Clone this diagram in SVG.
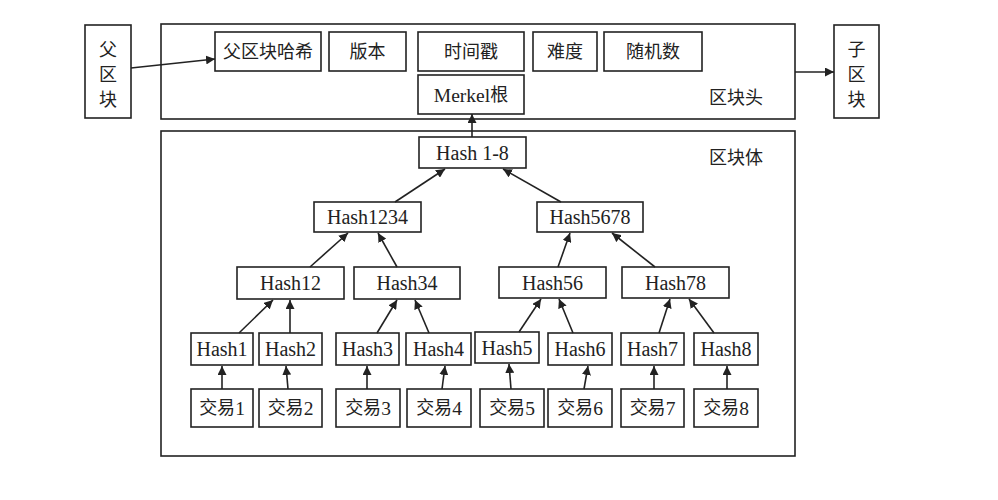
<svg xmlns="http://www.w3.org/2000/svg" width="998" height="500" viewBox="0 0 998 500">
<style>
.b{fill:#fff;stroke:#222;stroke-width:1.6}
.t{font-family:"Liberation Serif","Noto Sans CJK SC",serif;font-size:18px;fill:#222;text-anchor:middle;dominant-baseline:central}
.l{font-size:20px}
.c{stroke:#222;stroke-width:1.6;fill:none;marker-end:url(#ah)}
</style>
<defs>
<marker id="ah" viewBox="0 0 10 10" refX="10" refY="5" markerWidth="9" markerHeight="9" markerUnits="userSpaceOnUse" orient="auto">
<path d="M0,0 L10,5 L0,10 z" fill="#222"/>
</marker>
</defs>
<rect width="998" height="500" fill="#fff"/>
<g id="header"><rect class="b" x="161" y="24" width="634" height="95"/><text class="t" x="736" y="98">区块头</text></g>
<g id="body"><rect class="b" x="161" y="131" width="634" height="325"/><text class="t" x="736" y="158">区块体</text></g>
<g id="parent"><rect class="b" x="85" y="25" width="46" height="93"/><text class="t" x="108" y="50">父</text><text class="t" x="108" y="75">区</text><text class="t" x="108" y="100">块</text></g>
<g id="child"><rect class="b" x="834" y="25" width="45" height="93"/><text class="t" x="856.5" y="50">子</text><text class="t" x="856.5" y="75">区</text><text class="t" x="856.5" y="100">块</text></g>
<g id="prevhash"><rect class="b" x="215" y="32" width="106" height="39"/><text class="t" x="268" y="52">父区块哈希</text></g>
<g id="version"><rect class="b" x="329" y="32" width="77" height="39"/><text class="t" x="367.5" y="52">版本</text></g>
<g id="timestamp"><rect class="b" x="418" y="32" width="106" height="39"/><text class="t" x="471" y="52">时间戳</text></g>
<g id="difficulty"><rect class="b" x="533" y="32" width="64" height="39"/><text class="t" x="565" y="52">难度</text></g>
<g id="nonce"><rect class="b" x="604" y="32" width="98" height="39"/><text class="t" x="653" y="52">随机数</text></g>
<g id="merkle"><rect class="b" x="418" y="75" width="106" height="39"/><text class="t" x="471" y="95"><tspan style="font-size:19.5px">Merkel</tspan>根</text></g>
<g id="h18"><rect class="b" x="419" y="137" width="107" height="31"/><text class="t l" x="472.5" y="153">Hash 1-8</text></g>
<g id="h1234"><rect class="b" x="314" y="202" width="107" height="30"/><text class="t l" x="367.5" y="217">Hash1234</text></g>
<g id="h5678"><rect class="b" x="537" y="202" width="106" height="30"/><text class="t l" x="590" y="217">Hash5678</text></g>
<g id="h12"><rect class="b" x="237" y="267" width="107" height="32"/><text class="t l" x="290.5" y="283">Hash12</text></g>
<g id="h34"><rect class="b" x="354" y="267" width="106" height="32"/><text class="t l" x="407" y="283">Hash34</text></g>
<g id="h56"><rect class="b" x="499" y="267" width="107" height="31"/><text class="t l" x="552.5" y="282.5">Hash56</text></g>
<g id="h78"><rect class="b" x="622" y="267" width="107" height="31"/><text class="t l" x="675.5" y="282.5">Hash78</text></g>
<g id="h1"><rect class="b" x="191" y="333" width="62" height="32"/><text class="t l" x="222" y="349">Hash1</text></g>
<g id="h2"><rect class="b" x="259" y="333" width="63" height="32"/><text class="t l" x="290.5" y="349">Hash2</text></g>
<g id="h3"><rect class="b" x="336" y="333" width="63" height="32"/><text class="t l" x="367.5" y="349">Hash3</text></g>
<g id="h4"><rect class="b" x="406" y="333" width="65" height="32"/><text class="t l" x="438.5" y="349">Hash4</text></g>
<g id="h5"><rect class="b" x="475" y="332" width="64" height="31"/><text class="t l" x="507" y="347.5">Hash5</text></g>
<g id="h6"><rect class="b" x="548" y="333" width="64" height="32"/><text class="t l" x="580" y="349">Hash6</text></g>
<g id="h7"><rect class="b" x="621" y="333" width="63" height="32"/><text class="t l" x="652.5" y="349">Hash7</text></g>
<g id="h8"><rect class="b" x="694" y="333" width="64" height="32"/><text class="t l" x="726" y="349">Hash8</text></g>
<g id="tx1"><rect class="b" x="191" y="389" width="62" height="38"/><text class="t" x="222" y="408">交易<tspan style="font-size:19.5px">1</tspan></text></g>
<g id="tx2"><rect class="b" x="259" y="389" width="63" height="38"/><text class="t" x="290.5" y="408">交易<tspan style="font-size:19.5px">2</tspan></text></g>
<g id="tx3"><rect class="b" x="336" y="389" width="64" height="38"/><text class="t" x="368" y="408">交易<tspan style="font-size:19.5px">3</tspan></text></g>
<g id="tx4"><rect class="b" x="407" y="389" width="64" height="38"/><text class="t" x="439" y="408">交易<tspan style="font-size:19.5px">4</tspan></text></g>
<g id="tx5"><rect class="b" x="480" y="389" width="64" height="38"/><text class="t" x="512" y="408">交易<tspan style="font-size:19.5px">5</tspan></text></g>
<g id="tx6"><rect class="b" x="548" y="389" width="64" height="38"/><text class="t" x="580" y="408">交易<tspan style="font-size:19.5px">6</tspan></text></g>
<g id="tx7"><rect class="b" x="621" y="389" width="63" height="38"/><text class="t" x="652.5" y="408">交易<tspan style="font-size:19.5px">7</tspan></text></g>
<g id="tx8"><rect class="b" x="694" y="389" width="64" height="38"/><text class="t" x="726" y="408">交易<tspan style="font-size:19.5px">8</tspan></text></g>
<g id="connectors">
<line class="c" x1="131" y1="68" x2="215" y2="59"/>
<line class="c" x1="795" y1="72" x2="834" y2="72"/>
<line class="c" x1="472" y1="137" x2="472" y2="114"/>
<line class="c" x1="395" y1="202" x2="445" y2="169"/>
<line class="c" x1="561" y1="202" x2="503" y2="169"/>
<line class="c" x1="310" y1="267" x2="348" y2="233"/>
<line class="c" x1="397" y1="267" x2="378" y2="233"/>
<line class="c" x1="558" y1="267" x2="570" y2="233"/>
<line class="c" x1="655" y1="267" x2="612" y2="233"/>
<line class="c" x1="239" y1="333" x2="273" y2="300"/>
<line class="c" x1="290" y1="333" x2="290" y2="300"/>
<line class="c" x1="377" y1="333" x2="397" y2="300"/>
<line class="c" x1="429" y1="333" x2="415" y2="300"/>
<line class="c" x1="519" y1="332" x2="541" y2="299"/>
<line class="c" x1="573" y1="333" x2="559" y2="299"/>
<line class="c" x1="659" y1="333" x2="670" y2="299"/>
<line class="c" x1="714" y1="333" x2="689" y2="299"/>
<line class="c" x1="222" y1="389" x2="222" y2="366"/>
<line class="c" x1="288" y1="389" x2="286" y2="366"/>
<line class="c" x1="367" y1="389" x2="367" y2="366"/>
<line class="c" x1="442" y1="389" x2="445" y2="366"/>
<line class="c" x1="511" y1="389" x2="509" y2="364"/>
<line class="c" x1="584" y1="389" x2="588" y2="366"/>
<line class="c" x1="654" y1="389" x2="654" y2="366"/>
<line class="c" x1="727" y1="389" x2="727" y2="366"/>
</g>
</svg>
